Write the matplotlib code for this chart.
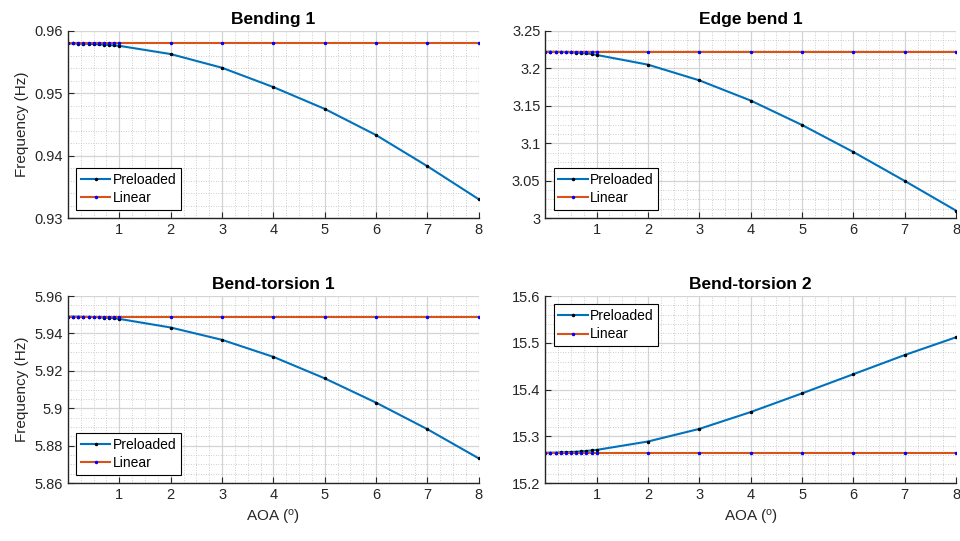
import numpy as np
import matplotlib
matplotlib.use('Agg')
import matplotlib.pyplot as plt
import matplotlib.ticker as ticker

plt.rc('font', family=['Liberation Sans', 'DejaVu Sans'], size=10)

# angle of attack (deg)
aoa = [0, 0.1, 0.2, 0.3, 0.4, 0.5, 0.6, 0.7, 0.8, 0.9, 1, 2, 3, 4, 5, 6, 7, 8]

titles = ['Bending 1', 'Edge bend 1', 'Bend-torsion 1', 'Bend-torsion 2']

bend1_pre = [0.9580, 0.9580, 0.95799, 0.95797, 0.95794, 0.95790, 0.95786, 0.95781,
             0.95775, 0.95769, 0.95762, 0.9563, 0.9541, 0.9510, 0.9475, 0.9433, 0.9383, 0.9330]
bend1_lin = [0.9580] * len(aoa)

edge1_pre = [3.2222, 3.2222, 3.2221, 3.2220, 3.2218, 3.2215, 3.2211, 3.2206,
             3.2200, 3.2192, 3.2180, 3.2050, 3.1840, 3.1570, 3.1243, 3.0882, 3.0495, 3.0098]
edge1_lin = [3.2222] * len(aoa)

bt1_pre = [5.9490, 5.9490, 5.9490, 5.9489, 5.9489, 5.9488, 5.9487, 5.9485,
           5.9484, 5.9482, 5.9478, 5.9432, 5.9366, 5.9275, 5.9160, 5.9030, 5.8888, 5.8732]
bt1_lin = [5.9490] * len(aoa)

bt2_pre = [15.265, 15.2651, 15.2653, 15.2656, 15.2660, 15.2665, 15.2671, 15.2679,
           15.2688, 15.2698, 15.2710, 15.289, 15.316, 15.352, 15.392, 15.433, 15.474, 15.512]
bt2_lin = [15.265] * len(aoa)

pre_data = [bend1_pre, edge1_pre, bt1_pre, bt2_pre]
lin_data = [bend1_lin, edge1_lin, bt1_lin, bt2_lin]

ylims = [(0.93, 0.96), (3.0, 3.25), (5.86, 5.96), (15.2, 15.6)]
ysteps = [0.01, 0.05, 0.02, 0.1]
yminor = [5, 4, 4, 5]
leg_loc = ['lower left', 'lower left', 'lower left', 'upper left']

blue = '#0072BD'
orange = '#D95319'
axcol = '#262626'

fig = plt.figure(figsize=(9.6, 5.41), dpi=100)
lefts = [0.0708, 0.568, 0.0708, 0.568]
bottoms = [0.597, 0.597, 0.107, 0.107]

for i in range(4):
    ax = fig.add_axes([lefts[i], bottoms[i], 0.428, 0.3457])
    ax.plot(aoa, pre_data[i], color=blue, lw=1.5, marker='.', ms=3,
            mfc='k', mec='k', label='Preloaded')
    ax.plot(aoa, lin_data[i], color=orange, lw=1.5, marker='.', ms=3,
            mfc='b', mec='b', label='Linear')
    ax.set_xlim(0, 8)
    ax.set_ylim(*ylims[i])
    ax.xaxis.set_major_locator(ticker.FixedLocator([1, 2, 3, 4, 5, 6, 7, 8]))
    ax.xaxis.set_minor_locator(ticker.MultipleLocator(0.25))
    ax.yaxis.set_major_locator(ticker.MultipleLocator(ysteps[i]))
    ax.yaxis.set_minor_locator(ticker.AutoMinorLocator(yminor[i]))
    ax.yaxis.set_major_formatter(ticker.FormatStrFormatter('%g'))
    ax.grid(True, which='major', color='#d4d4d4', lw=0.9)
    ax.grid(True, which='minor', color='#bdbdbd', lw=0.6, ls=(0, (1, 2)))
    ax.set_axisbelow(True)
    for s in ['top', 'right']:
        ax.spines[s].set_visible(False)
    for s in ['left', 'bottom']:
        ax.spines[s].set_color(axcol)
        ax.spines[s].set_linewidth(1.0)
    ax.tick_params(which='major', direction='in', length=4, colors=axcol,
                   labelsize=10.5, labelcolor=axcol)
    ax.tick_params(which='minor', length=0)
    ax.set_title(titles[i], fontweight='bold', fontsize=12.5, pad=5)
    if i % 2 == 0:
        ax.set_ylabel('Frequency (Hz)', fontsize=11, color=axcol)
    if i >= 2:
        ax.set_xlabel(r'AOA ($\mathregular{^o}$)', fontsize=11, color=axcol)
    leg = ax.legend(loc=leg_loc[i], fancybox=False, framealpha=1, edgecolor='k',
                    fontsize=10, handlelength=2.1, borderpad=0.35,
                    labelspacing=0.3, handletextpad=0.15, borderaxespad=0.6)
    leg.get_frame().set_linewidth(0.8)

fig.savefig('out.png', dpi=100)
